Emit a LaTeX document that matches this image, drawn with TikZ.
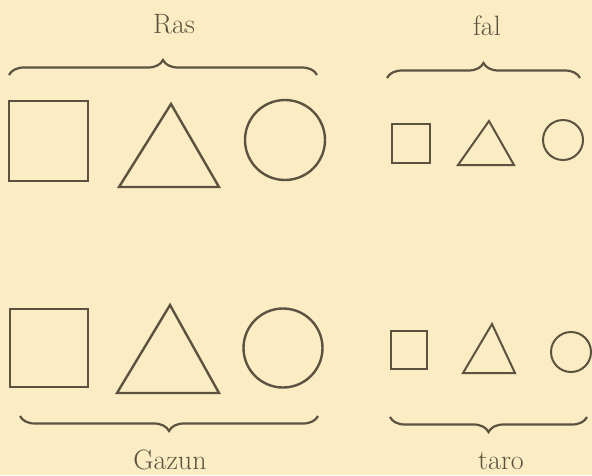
\documentclass[tikz,border=0pt]{standalone}
\usetikzlibrary{decorations.pathreplacing}
\definecolor{paper}{RGB}{251,236,196}
\definecolor{ink}{RGB}{92,82,64}
\begin{document}
\begin{tikzpicture}[x=1pt,y=-1pt,
  bigfig/.style={draw=ink,line width=2.4pt},
  smallfig/.style={draw=ink,line width=2pt},
  bracelink/.style={draw=ink,line width=2.2pt,decorate,decoration={brace,amplitude=15pt}},
  wordlabel/.style={text=ink,font=\fontsize{28}{30}\selectfont,anchor=base,inner sep=0pt}]
\fill[paper] (0,0) rectangle (592,475);
\useasboundingbox (0,0) rectangle (592,475);
% labels
\node[wordlabel] (ras) at (174,33) {Ras};
\node[wordlabel] (fal) at (487,35) {fal};
\node[wordlabel] (gazun) at (170,469) {Gazun};
\node[wordlabel] (taro) at (501,469) {taro};
% braces
\coordinate (b1l) at (9,75);   \coordinate (b1r) at (317,75);
\coordinate (b2l) at (387,78); \coordinate (b2r) at (580,78);
\coordinate (b3l) at (20,416); \coordinate (b3r) at (318,416);
\coordinate (b4l) at (390,417);\coordinate (b4r) at (587,417);
\draw[bracelink] (b1l) -- (b1r);
\draw[bracelink] (b2l) -- (b2r);
\draw[bracelink] (b3r) -- (b3l);
\draw[bracelink] (b4r) -- (b4l);
% top left
\draw[bigfig] (9,101) rectangle (88,181);
\draw[bigfig] (171,104) -- (219,187) -- (119,187) -- cycle;
\draw[bigfig] (285,140) circle (40);
% top right
\draw[smallfig] (392,124) rectangle (430,163);
\draw[smallfig] (489,121) -- (514,165) -- (458,165) -- cycle;
\draw[smallfig] (563,140) circle (20);
% bottom left
\draw[bigfig] (10,309) rectangle (88,387);
\draw[bigfig] (170,305) -- (219,393) -- (117,393) -- cycle;
\draw[bigfig] (283,348) circle (39.5);
% bottom right
\draw[smallfig] (391,331) rectangle (427,369);
\draw[smallfig] (492,324) -- (515,373) -- (463,373) -- cycle;
\draw[smallfig] (571,352) circle (20);
\end{tikzpicture}
\end{document}
